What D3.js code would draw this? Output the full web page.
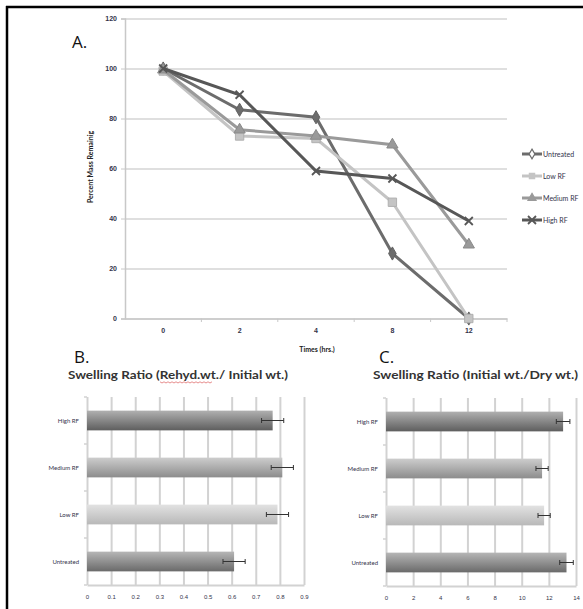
<!DOCTYPE html>
<html>
<head>
<meta charset="utf-8">
<script src="https://cdn.jsdelivr.net/npm/d3@7"></script>
<style>
  body { margin: 0; background: #fff; }
  svg { display: block; font-family: 'Lato', 'Open Sans', sans-serif; }
  .tick text { fill: #33334a; }
  .grid line { stroke: #d4d4d4; }
  .grid .domain { display: none; }
</style>
</head>
<body>
<svg width="583" height="609"></svg>
<script>
// panel A: percent mass remaining
const times = ['0', '2', '4', '8', '12'];
const seriesNames = ['Untreated', 'Low RF', 'Medium RF', 'High RF'];
const untreated = [100, 83.5, 80.5, 26, 0];
const lowRF = [99, 73, 72, 46.5, 0];
const mediumRF = [99.5, 75.5, 73, 69.5, 29.5];
const highRF = [100, 89.5, 59, 56, 39];
const yTicksA = [0, 20, 40, 60, 80, 100, 120];

// panels B and C: swelling ratios
const groups = ['Untreated', 'Low RF', 'Medium RF', 'High RF'];
const rehydRatio = [0.61, 0.79, 0.81, 0.77];
const rehydErr = [0.046, 0.046, 0.046, 0.046];
const xTicksB = [0, 0.1, 0.2, 0.3, 0.4, 0.5, 0.6, 0.7, 0.8, 0.9];
const dryRatio = [13.3, 11.65, 11.5, 13.05];
const dryErr = [0.5, 0.45, 0.45, 0.5];
const xTicksC = [0, 2, 4, 6, 8, 10, 12, 14];

const svg = d3.select('svg');

// frame
svg.append('line').attr('x1', 7).attr('y1', 6).attr('x2', 7).attr('y2', 609)
  .attr('stroke', '#000').attr('stroke-width', 2.5);
svg.append('line').attr('x1', 6).attr('y1', 7).attr('x2', 583).attr('y2', 7)
  .attr('stroke', '#000').attr('stroke-width', 2.5);

// ---------- A ----------
const xA = d3.scaleBand().domain(times).range([125, 507]);
const yA = d3.scaleLinear().domain([0, 120]).range([318.5, 18.5]);

svg.append('g')
  .attr('class', 'grid')
  .attr('transform', 'translate(125,0)')
  .call(d3.axisLeft(yA).tickValues(yTicksA).tickSize(-382).tickFormat(''))
  .selectAll('line').attr('stroke-width', 1.5);

const axA = svg.append('g')
  .attr('transform', 'translate(125,0)')
  .call(d3.axisLeft(yA).tickValues(yTicksA).tickSize(4).tickPadding(4));
axA.select('.domain').attr('stroke', '#c8c8c8').attr('stroke-width', 1.5);
axA.selectAll('.tick line').attr('stroke', '#c8c8c8');
axA.selectAll('text').style('font-size', '7px').style('font-weight', 'bold');

const axAx = svg.append('g')
  .attr('transform', 'translate(0,318.5)')
  .call(d3.axisBottom(xA).tickSizeInner(0).tickSizeOuter(0).tickPadding(10));
axAx.select('.domain').attr('stroke', '#c8c8c8').attr('stroke-width', 1.5);
axAx.selectAll('text').style('font-size', '7px').style('font-weight', 'bold');
// category separators
svg.append('g').selectAll('line')
  .data(times.slice(1).concat(['end']))
  .join('line')
  .attr('x1', (d, i) => xA(times[0]) + xA.step() * (i + 1))
  .attr('x2', (d, i) => xA(times[0]) + xA.step() * (i + 1))
  .attr('y1', 318.5).attr('y2', 322)
  .attr('stroke', '#c8c8c8');

const seriesVals = [untreated, lowRF, mediumRF, highRF];
const seriesColor = ['#6c6c6c', '#c4c4c4', '#9a9a9a', '#575757'];
const markerType = ['diamond', 'square', 'triangle', 'cross'];

const cx = t => xA(t) + xA.bandwidth() / 2;
const line = d3.line().x((d, i) => cx(times[i])).y(d => yA(d));

function drawMarker(g, type, x, y, color) {
  if (type === 'cross') {
    g.append('path')
      .attr('d', `M${x - 4},${y - 4}L${x + 4},${y + 4}M${x - 4},${y + 4}L${x + 4},${y - 4}`)
      .attr('stroke', color).attr('stroke-width', 1.8).attr('fill', 'none');
  } else {
    const sym = { diamond: d3.symbolDiamond, square: d3.symbolSquare, triangle: d3.symbolTriangle }[type];
    const size = { diamond: 50, square: 70, triangle: 55 }[type];
    g.append('path')
      .attr('d', d3.symbol().type(sym).size(size)())
      .attr('transform', `translate(${x},${y})`)
      .attr('fill', color)
      .attr('stroke', d3.color(color).darker(0.3)).attr('stroke-width', 1);
  }
}

seriesVals.forEach((vals, s) => {
  const g = svg.append('g');
  g.append('path')
    .datum(vals)
    .attr('d', line)
    .attr('fill', 'none')
    .attr('stroke', seriesColor[s])
    .attr('stroke-width', 3);
  vals.forEach((v, i) => drawMarker(g, markerType[s], cx(times[i]), yA(v), seriesColor[s]));
});

// legend
const legY = [154, 176, 198, 220];
seriesNames.forEach((name, s) => {
  const g = svg.append('g');
  g.append('line').attr('x1', 522).attr('x2', 542)
    .attr('y1', legY[s]).attr('y2', legY[s])
    .attr('stroke', seriesColor[s]).attr('stroke-width', 3);
  if (markerType[s] === 'cross') {
    drawMarker(g, 'cross', 532, legY[s], seriesColor[s]);
  } else {
    g.append('path')
      .attr('d', d3.symbol().type({ diamond: d3.symbolDiamond, square: d3.symbolSquare, triangle: d3.symbolTriangle }[markerType[s]]).size(28)())
      .attr('transform', `translate(532,${legY[s]})`)
      .attr('fill', markerType[s] === 'diamond' ? '#fff' : seriesColor[s])
      .attr('stroke', seriesColor[s]).attr('stroke-width', 1.2);
  }
  g.append('text').attr('x', 543).attr('y', legY[s] + 2.5)
    .style('font-size', '7px').attr('fill', '#33334a').text(name);
});

svg.append('text')
  .attr('transform', 'translate(93,167) rotate(-90)')
  .attr('text-anchor', 'middle')
  .style('font-size', '7px').style('font-weight', 'bold')
  .attr('fill', '#222')
  .text('Percent Mass Remainig');

svg.append('text')
  .attr('x', 317).attr('y', 352)
  .attr('text-anchor', 'middle')
  .style('font-size', '7px').style('font-weight', 'bold')
  .attr('fill', '#222')
  .text('Times (hrs.)');

svg.append('text').attr('x', 72).attr('y', 48)
  .style('font-size', '17px').style('font-family', "'Open Sans', sans-serif").attr('fill', '#111').text('A.');

// ---------- B and C ----------
const defs = svg.append('defs');
const barFill = [
  ['#b6b6b6', '#6a6a6a'],
  ['#e2e2e2', '#b8b8b8'],
  ['#cdcdcd', '#8c8c8c'],
  ['#b0b0b0', '#5e5e5e']
];
barFill.forEach((c, i) => {
  const gr = defs.append('linearGradient').attr('id', 'bar' + i)
    .attr('x1', 0).attr('y1', 0).attr('x2', 0).attr('y2', 1);
  gr.append('stop').attr('offset', '0%').attr('stop-color', c[0]);
  gr.append('stop').attr('offset', '100%').attr('stop-color', c[1]);
});

function barPanel(opt) {
  const x = d3.scaleLinear().domain(opt.domain).range([opt.left, opt.right]);
  const y = d3.scaleBand().domain(groups.slice().reverse()).range([opt.top, opt.bottom]).paddingInner(0.58).paddingOuter(0.29);

  const grid = svg.append('g')
    .attr('transform', `translate(0,${opt.bottom})`)
    .call(d3.axisBottom(x).tickValues(opt.ticks).tickSize(-(opt.bottom - opt.top)).tickFormat(''));
  grid.select('.domain').remove();
  grid.selectAll('line').attr('stroke', '#d2d2d2').attr('stroke-width', 2);

  const ax = svg.append('g')
    .attr('transform', `translate(0,${opt.bottom})`)
    .call(d3.axisBottom(x).tickValues(opt.ticks).tickSize(0).tickPadding(10).tickFormat(opt.fmt));
  ax.select('.domain').attr('stroke', '#d2d2d2').attr('stroke-width', 2);
  ax.selectAll('text').style('font-size', '6px');

  // category ticks on the left axis
  svg.append('g').selectAll('line')
    .data(d3.range(5))
    .join('line')
    .attr('x1', opt.left - 3).attr('x2', opt.left)
    .attr('y1', i => opt.top + (opt.bottom - opt.top) * i / 4)
    .attr('y2', i => opt.top + (opt.bottom - opt.top) * i / 4)
    .attr('stroke', '#d2d2d2').attr('stroke-width', 1.5);

  svg.append('g').selectAll('text')
    .data(groups)
    .join('text')
    .attr('x', opt.left - 8)
    .attr('y', d => y(d) + y.bandwidth() / 2 + 2)
    .attr('text-anchor', 'end')
    .style('font-size', '6px')
    .attr('fill', '#33334a')
    .text(d => d);

  svg.append('g').selectAll('rect')
    .data(groups)
    .join('rect')
    .attr('x', opt.left)
    .attr('y', d => y(d))
    .attr('width', (d, i) => x(opt.vals[i]) - opt.left)
    .attr('height', y.bandwidth())
    .attr('fill', (d, i) => `url(#bar${i})`);

  const eb = svg.append('g').attr('stroke', '#333').attr('stroke-width', 1);
  groups.forEach((d, i) => {
    const yc = y(d) + y.bandwidth() / 2;
    const x0 = x(opt.vals[i] - opt.errs[i]);
    const x1 = x(opt.vals[i] + opt.errs[i]);
    eb.append('line').attr('x1', x0).attr('x2', x1).attr('y1', yc).attr('y2', yc);
    eb.append('line').attr('x1', x0).attr('x2', x0).attr('y1', yc - 2.5).attr('y2', yc + 2.5);
    eb.append('line').attr('x1', x1).attr('x2', x1).attr('y1', yc - 2.5).attr('y2', yc + 2.5);
  });
}

barPanel({
  domain: [0, 0.9], left: 87, right: 304, top: 397, bottom: 585,
  ticks: xTicksB, fmt: d3.format('.1~f'), vals: rehydRatio, errs: rehydErr
});
barPanel({
  domain: [0, 14], left: 386, right: 576, top: 398, bottom: 586,
  ticks: xTicksC, fmt: d3.format('d'), vals: dryRatio, errs: dryErr
});

svg.append('text').attr('x', 74).attr('y', 363)
  .style('font-size', '17px').style('font-family', "'Open Sans', sans-serif").attr('fill', '#111').text('B.');
svg.append('text').attr('x', 379).attr('y', 363)
  .style('font-size', '17px').style('font-family', "'Open Sans', sans-serif").attr('fill', '#111').text('C.');

svg.append('text').attr('x', 68).attr('y', 379)
  .attr('textLength', 220).attr('lengthAdjust', 'spacingAndGlyphs')
  .style('font-size', '11.5px').style('font-weight', 'bold').attr('fill', '#333')
  .text('Swelling Ratio (Rehyd.wt./ Initial wt.)');
// spell-check squiggle under "Rehyd.wt."
const squig = d3.range(0, 53, 2).map((d, i) => [160 + d, 382 + (i % 2 ? 1 : -0.2)]);
svg.append('path').attr('d', d3.line()(squig))
  .attr('fill', 'none').attr('stroke', '#e07070').attr('stroke-width', 0.8);

svg.append('text').attr('x', 373).attr('y', 379)
  .attr('textLength', 205).attr('lengthAdjust', 'spacingAndGlyphs')
  .style('font-size', '11.5px').style('font-weight', 'bold').attr('fill', '#333')
  .text('Swelling Ratio (Initial wt./Dry wt.)');
</script>
</body>
</html>
